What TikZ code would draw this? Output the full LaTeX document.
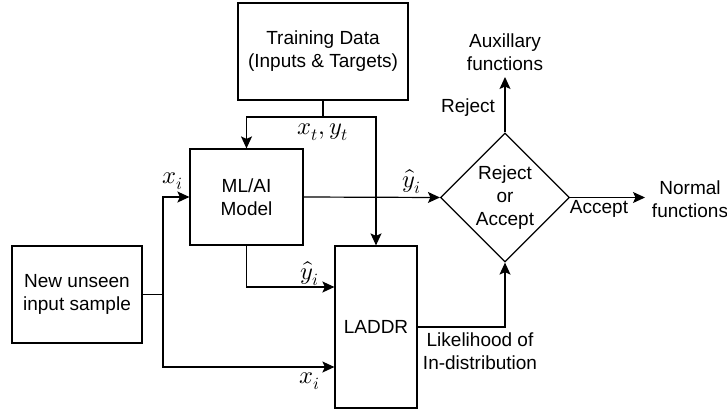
\documentclass[tikz,border=0pt]{standalone}
\usepackage{fontspec}
\usepackage{unicode-math}
\setmainfont{Liberation Sans}
\setmathfont{Latin Modern Math}
\usetikzlibrary{arrows.meta,shapes.geometric,calc}
\tikzset{
  blk/.style={draw, line width=1.2pt, align=center, inner sep=0pt},
  lbl/.style={inner sep=0pt, align=center},
  mlbl/.style={inner sep=0pt, font=\fontsize{24.5}{29}\selectfont},
  conn/.style={line width=1.2pt},
  arr/.style={conn, -{Stealth[length=12pt,width=11pt,inset=2.5pt]}},
}
\begin{document}
\begin{tikzpicture}[x=1pt,y=-1pt,font=\fontsize{19}{23}\selectfont]
\useasboundingbox (0,0) rectangle (727,412);
% boxes
\node[blk, minimum width=170pt, minimum height=97pt] (train) at (323,51.5) {Training Data\\(Inputs \& Targets)};
\node[blk, minimum width=113pt, minimum height=96pt] (ml) at (246.5,197) {ML/AI\\Model};
\node[blk, minimum width=130pt, minimum height=97pt] (input) at (77,294.5) {New unseen\\input sample};
\node[blk, minimum width=82pt, minimum height=162pt] (laddr) at (376,327) {LADDR};
\node[blk, diamond, aspect=1, minimum width=129pt, minimum height=129pt] (dia) at (505,197.5) {Reject\\or\\Accept};
% junctions and free ends
\coordinate (tj) at (323,117);
\coordinate (ij) at (163,294.5);
\coordinate (auxend) at (505,77);
\coordinate (normend) at (645,197.5);
% connectors
\draw[conn] (train.south) -- (tj);
\draw[arr] (tj) -| (ml.north);
\draw[arr] (tj) -| (laddr.north);
\draw[conn] (input.east) -- (ij);
\draw[arr] (ij) |- (ml.west);
\draw[arr] (ij) |- ([yshift=-40pt]laddr.west);
\draw[arr] (ml.south) |- ([yshift=40pt]laddr.west);
\draw[arr] (ml.east) -- (dia.west);
\draw[arr] (dia.north) -- (auxend);
\draw[arr] (dia.east) -- (normend);
\draw[arr] (laddr.east) -| (dia.south);
% labels
\node[mlbl] (lxy) at (323,132) {$x_t, y_t$};
\node[mlbl] (lxi1) at (173,181) {$x_i$};
\node[mlbl] (lyh1) at (310,274) {$\hat{y}_i$};
\node[mlbl] (lxi2) at (310,381) {$x_i$};
\node[mlbl] (lyh2) at (412,182) {$\hat{y}_i$};
\node[lbl] (lrej) at (468,108) {Reject};
\node[lbl] (aux) at (505,52) {Auxillary\\functions};
\node[lbl] (lacc) at (599,209) {Accept};
\node[lbl] (norm) at (690,199) {Normal\\functions};
\node[lbl] (llik) at (480,351) {Likelihood of\\In-distribution};
\end{tikzpicture}
\end{document}
